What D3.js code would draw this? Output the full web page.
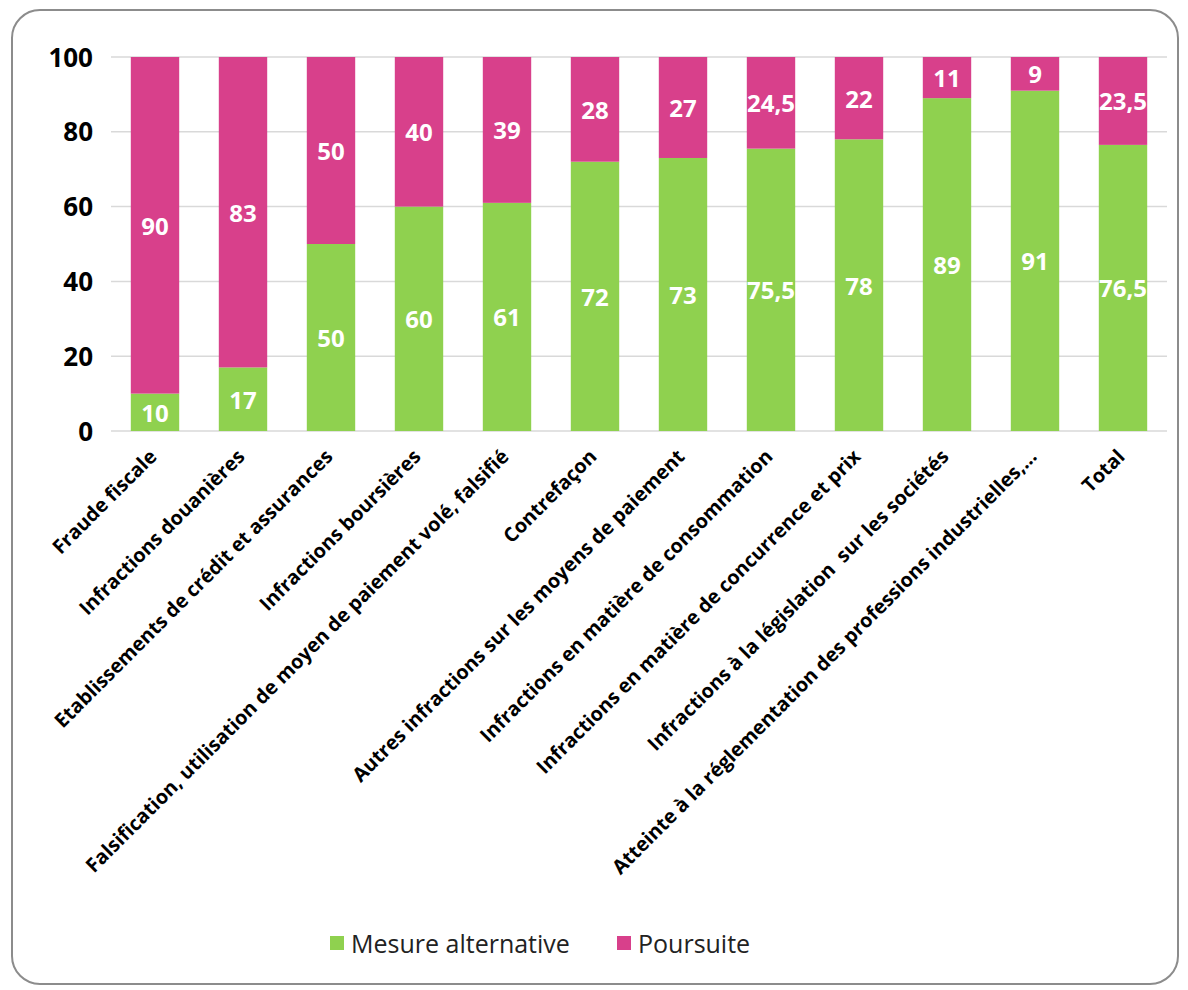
<!DOCTYPE html>
<html><head><meta charset="utf-8">
<script src="https://cdn.jsdelivr.net/npm/d3@7"></script>
<style>body{margin:0;background:#fff;} svg{display:block;}</style>
</head><body>
<svg id="c" width="1188" height="990"></svg>
<script>
const categories = ["Fraude fiscale","Infractions douanières","Etablissements de crédit et assurances","Infractions boursières","Falsification, utilisation de moyen de paiement volé, falsifié","Contrefaçon","Autres infractions sur les moyens de paiement","Infractions en matière de consommation","Infractions en matière de concurrence et prix","Infractions à la législation  sur les sociétés","Atteinte à la réglementation des professions industrielles,…","Total"];
const mesure = [10,17,50,60,61,72,73,75.5,78,89,91,76.5];
const poursuite = [90,83,50,40,39,28,27,24.5,22,11,9,23.5];
const yTicks = [0,20,40,60,80,100];
const seriesNames = ["Mesure alternative","Poursuite"];
const colors = ["#8fd14f","#d8408b"];

const svg = d3.select("#c");
svg.append("rect").attr("x",12).attr("y",10).attr("width",1166).attr("height",974)
  .attr("rx",28).attr("fill","#fff").attr("stroke","#8c8c8c").attr("stroke-width",2);

const x = d3.scaleBand().domain(categories).range([111,1167]).paddingInner(0.45).paddingOuter(0.225);
const y = d3.scaleLinear().domain([0,100]).range([431,57]);

const g = svg.append("g");
g.selectAll("line.grid").data(yTicks).join("line")
  .attr("x1",111).attr("x2",1167).attr("y1",d=>y(d)).attr("y2",d=>y(d))
  .attr("stroke","#d9d9d9").attr("stroke-width",1.5);

const fmt = v => String(v).replace(".",",");
const stack = categories.map((c,i)=>({c, m:mesure[i], p:poursuite[i]}));

g.selectAll("rect.m").data(stack).join("rect")
  .attr("x",d=>x(d.c)).attr("width",x.bandwidth())
  .attr("y",d=>y(d.m)).attr("height",d=>y(0)-y(d.m)).attr("fill",colors[0]);
g.selectAll("rect.p").data(stack).join("rect")
  .attr("x",d=>x(d.c)).attr("width",x.bandwidth())
  .attr("y",d=>y(d.m+d.p)).attr("height",d=>y(d.m)-y(d.m+d.p)).attr("fill",colors[1]);

const lblStyle = s => s.attr("text-anchor","middle").attr("dominant-baseline","central")
  .attr("fill","#fff").attr("font-family","Open Sans, sans-serif").attr("font-weight","bold").attr("font-size",24);
g.selectAll("text.lm").data(stack).join("text")
  .attr("x",d=>x(d.c)+x.bandwidth()/2).attr("y",d=>y(d.m/2)).text(d=>fmt(d.m)).call(lblStyle);
g.selectAll("text.lp").data(stack).join("text")
  .attr("x",d=>x(d.c)+x.bandwidth()/2).attr("y",d=>y(d.m+d.p/2)).text(d=>fmt(d.p)).call(lblStyle);

// y axis
const yAxis = d3.axisLeft(y).tickValues(yTicks).tickSize(0).tickPadding(0);
const ya = svg.append("g").attr("transform","translate(93,0)").call(yAxis);
ya.select(".domain").remove();
ya.selectAll("text").attr("font-family","Open Sans, sans-serif").attr("font-weight","bold")
  .attr("font-size",26).attr("fill","#000").attr("dy","0.35em");

// x axis
const xAxis = d3.axisBottom(x).tickSize(0).tickPadding(0);
const xa = svg.append("g").attr("transform","translate(0,431)").call(xAxis);
xa.select(".domain").remove();
xa.selectAll("text").attr("font-family","Open Sans, sans-serif").attr("font-weight","bold")
  .attr("font-size",19.8).attr("fill","#000").attr("text-anchor","end")
  .style("white-space","pre")
  .attr("transform","translate(-2,22) rotate(-45)").attr("dy","0.35em").attr("y",0).attr("x",0);

// legend
const legend = svg.append("g");
const lx = [330, 617];
seriesNames.forEach((n,i)=>{
  legend.append("rect").attr("x",lx[i]).attr("y",936).attr("width",14).attr("height",14).attr("fill",colors[i]);
  legend.append("text").attr("x",lx[i]+21).attr("y",943).attr("dominant-baseline","central")
    .attr("font-family","Open Sans, sans-serif").attr("font-size",25).attr("fill","#222").text(n);
});
</script>
</body></html>
